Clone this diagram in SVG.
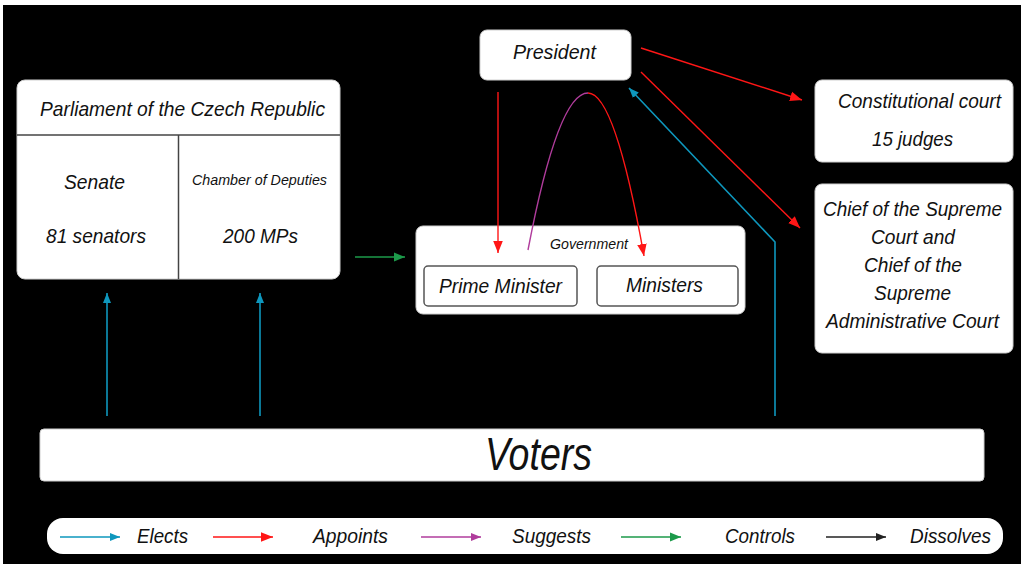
<svg xmlns="http://www.w3.org/2000/svg" width="1021" height="564" viewBox="0 0 1021 564">
<style>
.box{fill:#fff;stroke:#cfcfcf;stroke-width:1}
.sub{fill:#fff;stroke:#555;stroke-width:1.5}
.div{stroke:#444;stroke-width:1.5;fill:none}
text{font-family:"Liberation Sans",Arial,sans-serif;font-style:italic;fill:#111;text-anchor:middle}
.t20{font-size:21px}
.t14{font-size:15px}
.blue{stroke:#0e97bd;stroke-width:1.6;fill:none}
.red{stroke:#ff1616;stroke-width:1.4;fill:none}
.purple{stroke:#b03c9c;stroke-width:1.4;fill:none}
.green{stroke:#1c9a4a;stroke-width:1.6;fill:none}
.black{stroke:#222;stroke-width:1.6;fill:none}
</style>
<defs>
<marker id="mb" viewBox="0 0 10 10" refX="10" refY="5" markerWidth="10" markerHeight="10" markerUnits="userSpaceOnUse" orient="auto"><path d="M0,1 L10,5 L0,9 z" fill="#0e97bd"/></marker>
<marker id="mr" viewBox="0 0 10 10" refX="10" refY="5" markerWidth="12" markerHeight="12" markerUnits="userSpaceOnUse" orient="auto"><path d="M0,1 L10,5 L0,9 z" fill="#ff1616"/></marker>
<marker id="mp" viewBox="0 0 10 10" refX="10" refY="5" markerWidth="10" markerHeight="10" markerUnits="userSpaceOnUse" orient="auto"><path d="M0,1 L10,5 L0,9 z" fill="#b03c9c"/></marker>
<marker id="mg" viewBox="0 0 10 10" refX="10" refY="5" markerWidth="11" markerHeight="11" markerUnits="userSpaceOnUse" orient="auto"><path d="M0,1 L10,5 L0,9 z" fill="#1c9a4a"/></marker>
<marker id="mk" viewBox="0 0 10 10" refX="10" refY="5" markerWidth="10" markerHeight="10" markerUnits="userSpaceOnUse" orient="auto"><path d="M0,1 L10,5 L0,9 z" fill="#222"/></marker>
</defs>
<rect x="0" y="0" width="1021" height="564" fill="#fff"/>
<rect x="3" y="5" width="1018" height="559" fill="#000"/>

<g id="parliament">
<rect class="box" x="17" y="80" width="323" height="199" rx="8"/>
<line class="div" x1="17" y1="135" x2="340" y2="135"/>
<line class="div" x1="178.5" y1="135" x2="178.5" y2="279"/>
<text class="t20" x="182.5" y="116" textLength="285" lengthAdjust="spacingAndGlyphs">Parliament of the Czech Republic</text>
<text class="t20" x="94.5" y="189" textLength="61" lengthAdjust="spacingAndGlyphs">Senate</text>
<text class="t20" x="96" y="243" textLength="100" lengthAdjust="spacingAndGlyphs">81 senators</text>
<text class="t14" x="259.5" y="185" textLength="135" lengthAdjust="spacingAndGlyphs">Chamber of Deputies</text>
<text class="t20" x="260.5" y="243" textLength="75" lengthAdjust="spacingAndGlyphs">200 MPs</text>
</g>

<g id="president">
<rect class="box" x="480" y="30" width="151" height="50" rx="7"/>
<text class="t20" x="554.5" y="59" textLength="83" lengthAdjust="spacingAndGlyphs">President</text>
</g>

<g id="constitutional-court">
<rect class="box" x="815" y="80" width="198" height="82" rx="7"/>
<text class="t20" x="919.5" y="108" textLength="163" lengthAdjust="spacingAndGlyphs">Constitutional court</text>
<text class="t20" x="912.5" y="146" textLength="81" lengthAdjust="spacingAndGlyphs">15 judges</text>
</g>

<g id="supreme-courts">
<rect class="box" x="815" y="184" width="198" height="169" rx="7"/>
<text class="t20" x="912.5" y="216" textLength="179" lengthAdjust="spacingAndGlyphs">Chief of the Supreme</text>
<text class="t20" x="913" y="244" textLength="84" lengthAdjust="spacingAndGlyphs">Court and</text>
<text class="t20" x="913" y="272" textLength="98" lengthAdjust="spacingAndGlyphs">Chief of the</text>
<text class="t20" x="912.5" y="300" textLength="77" lengthAdjust="spacingAndGlyphs">Supreme</text>
<text class="t20" x="912.5" y="328" textLength="173" lengthAdjust="spacingAndGlyphs">Administrative Court</text>
</g>

<g id="government">
<rect class="box" x="416" y="226" width="329" height="88" rx="7"/>
<text class="t14" x="589" y="249" textLength="78" lengthAdjust="spacingAndGlyphs">Government</text>
<rect class="sub" x="424" y="266" width="153" height="40" rx="4"/>
<text class="t20" x="500.5" y="293" textLength="123" lengthAdjust="spacingAndGlyphs">Prime Minister</text>
<rect class="sub" x="597" y="266" width="141" height="40" rx="4"/>
<text class="t20" x="664.5" y="292" textLength="77" lengthAdjust="spacingAndGlyphs">Ministers</text>
</g>

<g id="voters">
<rect class="box" x="40" y="429" width="944" height="52" rx="4"/>
<text x="538.5" y="470" style="font-size:46px" textLength="107" lengthAdjust="spacingAndGlyphs">Voters</text>
</g>

<g id="connectors">
<line class="blue" x1="107" y1="416" x2="107" y2="293" marker-end="url(#mb)"/>
<line class="blue" x1="260" y1="416" x2="260" y2="293" marker-end="url(#mb)"/>
<polyline class="blue" points="775,416 775,242 629,88" marker-end="url(#mb)"/>
<line class="green" x1="355" y1="257" x2="405" y2="257" marker-end="url(#mg)"/>
<line class="red" x1="498" y1="92" x2="498" y2="253" marker-end="url(#mr)"/>
<line class="red" x1="641" y1="48" x2="802" y2="100" marker-end="url(#mr)"/>
<line class="red" x1="641" y1="72" x2="800" y2="228" marker-end="url(#mr)"/>
<path class="purple" d="M528,250 Q558,93 588,93"/>
<path class="red" d="M588,93 Q615,93 644,256" marker-end="url(#mr)"/>
</g>

<g id="legend">
<rect x="47" y="518" width="956" height="36" rx="16" fill="#fff"/>
<line class="blue" x1="60" y1="537" x2="120" y2="537" marker-end="url(#mb)"/>
<text class="t20" x="162.5" y="543" textLength="51" lengthAdjust="spacingAndGlyphs">Elects</text>
<line class="red" x1="213" y1="537" x2="273" y2="537" marker-end="url(#mr)"/>
<text class="t20" x="350.5" y="543" textLength="75" lengthAdjust="spacingAndGlyphs">Appoints</text>
<line class="purple" x1="421" y1="537" x2="481" y2="537" marker-end="url(#mp)"/>
<text class="t20" x="551.5" y="543" textLength="79" lengthAdjust="spacingAndGlyphs">Suggests</text>
<line class="green" x1="621" y1="537" x2="681" y2="537" marker-end="url(#mg)"/>
<text class="t20" x="760" y="543" textLength="70" lengthAdjust="spacingAndGlyphs">Controls</text>
<line class="black" x1="826" y1="537" x2="886" y2="537" marker-end="url(#mk)"/>
<text class="t20" x="950.5" y="543" textLength="81" lengthAdjust="spacingAndGlyphs">Dissolves</text>
</g>
</svg>
